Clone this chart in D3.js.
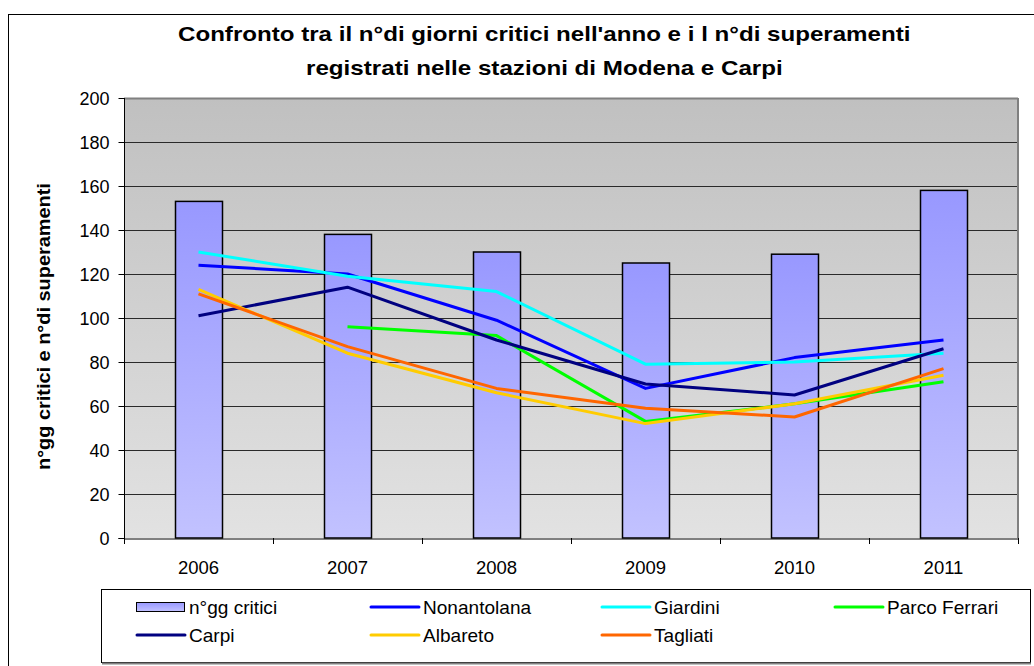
<!DOCTYPE html>
<html><head><meta charset="utf-8">
<script src="https://cdn.jsdelivr.net/npm/d3@7"></script>
<style>body{margin:0;background:#fff;} svg{display:block;font-family:"Liberation Sans",Arial,sans-serif;}</style>
</head><body>
<svg id="c" width="1034" height="666"></svg>
<script>
const years = ["2006","2007","2008","2009","2010","2011"];
const giorniCritici = [153,138,130,125,129,158];
const nonantolana = [124,120,99,68,82,90];
const giardini = [130,119,112,79,80,84];
const parcoFerrari = [null,96,92,53,61,71];
const carpi = [101,114,90,70,65,86];
const albareto = [113,84,66,52,61,74];
const tagliati = [111,87,68,59,55,77];
const yTicks = [0,20,40,60,80,100,120,140,160,180,200];

const lineSeries = [
  {name:"Nonantolana", values:nonantolana, color:"#0000FF"},
  {name:"Giardini", values:giardini, color:"#00FFFF"},
  {name:"Parco Ferrari", values:parcoFerrari, color:"#00FF00"},
  {name:"Carpi", values:carpi, color:"#000080"},
  {name:"Albareto", values:albareto, color:"#FFCC00"},
  {name:"Tagliati", values:tagliati, color:"#FF6600"}
];

const FONT = "Liberation Sans, Arial, sans-serif";
const svg = d3.select("#c");
const defs = svg.append("defs");
const bg = defs.append("linearGradient").attr("id","bgGrad").attr("x1",0).attr("y1",0).attr("x2",0).attr("y2",1);
bg.append("stop").attr("offset","0%").attr("stop-color","#C0C0C0");
bg.append("stop").attr("offset","100%").attr("stop-color","#E2E2E2");
const bg2 = defs.append("linearGradient").attr("id","barGrad").attr("x1",0).attr("y1",0).attr("x2",0).attr("y2",1);
bg2.append("stop").attr("offset","0%").attr("stop-color","#9898FF");
bg2.append("stop").attr("offset","100%").attr("stop-color","#C2C2FF");

// horizontally stretched text helper: places text starting at (x0,y0) with given width
function stretchedText(parent, str, x0, y0, width, size, bold, rotate){
  const g = parent.append("g").attr("transform",`translate(${x0},${y0})${rotate?" rotate(-90)":""}`);
  const inner = g.append("g");
  const t = inner.append("text").attr("x",0).attr("y",0).attr("font-size",size)
    .attr("font-family",FONT).attr("font-weight",bold?"bold":"normal").attr("fill","#000").text(str);
  const w = t.node().getComputedTextLength();
  inner.attr("transform",`scale(${width/w},1)`);
  return g;
}

// outer frame
svg.append("rect").attr("x",8.5).attr("y",14.5).attr("width",1040).attr("height",700)
  .attr("fill","#fff").attr("stroke","#000").attr("stroke-width",1);

const L=124, R=1018, T=98, B=538;
const x = d3.scaleBand().domain(years).range([L,R]).paddingInner(0).paddingOuter(0);
const y = d3.scaleLinear().domain([0,200]).range([B,T]);

svg.append("rect").attr("x",L).attr("y",T).attr("width",R-L).attr("height",B-T).attr("fill","url(#bgGrad)");

svg.append("g").selectAll("line").data(yTicks.filter(d=>d>0)).join("line")
  .attr("x1",L).attr("x2",R).attr("y1",d=>Math.round(y(d))+0.5).attr("y2",d=>Math.round(y(d))+0.5)
  .attr("stroke",d=>d===200?"#808080":"#2a2a2a").attr("stroke-width",d=>d===200?2:1);
svg.append("line").attr("x1",R).attr("x2",R).attr("y1",T).attr("y2",B).attr("stroke","#808080").attr("stroke-width",2);

// bars
const bw = 47;
svg.append("g").selectAll("rect").data(years).join("rect")
  .attr("x",d=>x(d)+x.bandwidth()/2-bw/2+0.5)
  .attr("y",(d,i)=>y(giorniCritici[i]))
  .attr("width",bw)
  .attr("height",(d,i)=>B-y(giorniCritici[i]))
  .attr("fill","url(#barGrad)").attr("stroke","#000").attr("stroke-width",1.5);

// lines
const line = d3.line().defined(d=>d.v!=null).x(d=>x(d.k)+x.bandwidth()/2).y(d=>y(d.v));
lineSeries.forEach(s=>{
  svg.append("path").datum(years.map((k,i)=>({k,v:s.values[i]})))
    .attr("d",line).attr("fill","none").attr("stroke",s.color).attr("stroke-width",3)
    .attr("stroke-linejoin","round");
});

// y axis
const ya = svg.append("g").attr("transform",`translate(${L+0.5},0)`)
  .call(d3.axisLeft(y).tickValues(yTicks).tickSize(6).tickPadding(9));
ya.select(".domain").attr("d",`M-6,${Math.round(B)+0.5}H0V${T}`).attr("stroke","#000");
ya.selectAll(".tick line").attr("stroke","#000");
ya.selectAll("text").attr("font-size",18).attr("font-family",FONT).attr("fill","#000").attr("dy","0.35em");

// x axis
const xa = svg.append("g").attr("transform",`translate(0,${B+0.5})`)
  .call(d3.axisBottom(x).tickSize(0).tickPadding(0));
xa.select(".domain").attr("stroke","#000");
xa.selectAll("text").attr("font-size",18.5).attr("font-family",FONT).attr("fill","#000")
  .attr("y",35).attr("dy",0);
svg.append("g").selectAll("line").data(years.concat(["end"])).join("line")
  .attr("x1",(d,i)=>Math.round(L+i*x.bandwidth())+0.5).attr("x2",(d,i)=>Math.round(L+i*x.bandwidth())+0.5)
  .attr("y1",B).attr("y2",B+6).attr("stroke","#000");

// titles
stretchedText(svg, "Confronto tra il n°di giorni critici nell'anno e i l n°di superamenti", 178, 41, 733, 19.5, true);
stretchedText(svg, "registrati nelle stazioni di Modena e Carpi", 306, 75, 477, 19.5, true);
stretchedText(svg, "n°gg critici e n°di superamenti", 50, 470, 287, 17.5, true, true);

// legend
svg.append("rect").attr("x",101.5).attr("y",589.5).attr("width",929).attr("height",73)
  .attr("fill","#fff").attr("stroke","#000").attr("stroke-width",1);
svg.append("line").attr("x1",102).attr("x2",1031).attr("y1",663.5).attr("y2",663.5).attr("stroke","#808080").attr("stroke-width",2);

const legendItems = [{name:"n°gg critici", bar:true}].concat(lineSeries);
const colX = [136,370,601,834];
const rowY = [607,635];
legendItems.forEach((it,i)=>{
  const c = i%4, r = Math.floor(i/4);
  const g = svg.append("g").attr("transform",`translate(${colX[c]},${rowY[r]})`);
  if(it.bar){
    g.append("rect").attr("x",0.5).attr("y",-4.5).attr("width",48).attr("height",9)
      .attr("fill","url(#barGrad)").attr("stroke","#000").attr("stroke-width",1);
  } else {
    g.append("line").attr("x1",1).attr("x2",49).attr("y1",0).attr("y2",0)
      .attr("stroke",it.color).attr("stroke-width",3).attr("stroke-linecap","round");
  }
  g.append("text").attr("x",0).attr("y",0).attr("font-size",18).attr("font-family",FONT).attr("fill","#000")
    .attr("transform","translate(53,6.5) scale(1.06,1)").text(it.name);
});
</script>
</body></html>
